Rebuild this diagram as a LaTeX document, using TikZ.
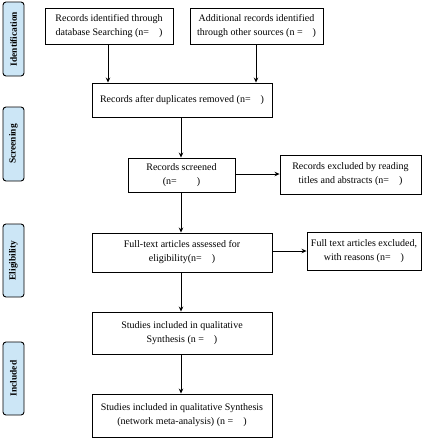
\documentclass[tikz,border=0pt]{standalone}
\usepackage{fontspec}
\setmainfont{Liberation Serif}
\usetikzlibrary{arrows.meta}
\definecolor{phase}{RGB}{204,230,246}
\begin{document}
\begin{tikzpicture}[x=1pt,y=-1pt,
  box/.style={draw,line width=0.9pt,fill=white,align=center,font=\fontsize{10}{14}\selectfont,inner sep=0pt},
  phasebox/.style={draw,line width=0.9pt,fill=phase,rounded corners=3pt,inner sep=0pt},
  phasetext/.style={rotate=90,font=\bfseries\fontsize{9.4}{10}\selectfont},
  arr/.style={line width=0.8pt,-{Stealth[length=5pt,width=4.5pt]}}]
\useasboundingbox (0,0) rectangle (425,440);
% phase labels
\node[phasebox,minimum width=21pt,minimum height=74pt] (p1) at (13.5,39) {};
\node[phasetext] at (p1) {Identification};
\node[phasebox,minimum width=21pt,minimum height=74pt] (p2) at (13.5,144) {};
\node[phasetext] at (p2) {Screening};
\node[phasebox,minimum width=21pt,minimum height=73pt] (p3) at (13.5,260.5) {};
\node[phasetext] at (p3) {Eligibility};
\node[phasebox,minimum width=21pt,minimum height=73pt] (p4) at (13.5,378.5) {};
\node[phasetext] at (p4) {Included};
% boxes
\node[box,minimum width=128pt,minimum height=36pt] (b1) at (109,26) {Records identified through\\database Searching (n=\quad)};
\node[box,minimum width=133pt,minimum height=36pt] (b2) at (256.5,26) {Additional records identified\\through other sources (n =\quad)};
\node[box,minimum width=180pt,minimum height=34pt] (b3) at (182,100) {Records after duplicates removed (n=\quad)};
\node[box,minimum width=107pt,minimum height=34pt] (b4) at (181.5,175) {Records screened\\(n=\qquad)};
\node[box,minimum width=141pt,minimum height=39pt] (b5) at (350.5,174.5) {Records excluded by reading\\titles and abstracts (n=\quad)};
\node[box,minimum width=180pt,minimum height=39pt] (b6) at (182,252.5) {Full-text articles assessed for\\eligibility(n=\quad)};
\node[box,minimum width=114pt,minimum height=38pt] (b7) at (364,251) {Full text articles excluded,\\with reasons (n=\quad)};
\node[box,minimum width=180pt,minimum height=42pt] (b8) at (182,333) {Studies included in qualitative\\Synthesis (n =\quad)};
\node[box,minimum width=180pt,minimum height=43pt] (b9) at (182,415.5) {Studies included in qualitative Synthesis\\(network meta-analysis) (n =\quad)};
% arrows
\draw[arr] (b1.south -| 108,0) -- (b3.north -| 108,0);
\draw[arr] (b2.south -| 256,0) -- (b3.north -| 256,0);
\draw[arr] (b3.south -| 181,0) -- (b4.north -| 181,0);
\draw[arr] (b4.south -| 181,0) -- (b6.north -| 181,0);
\draw[arr] (b4.east |- 0,174) -- (b5.west |- 0,174);
\draw[arr] (b6.east |- 0,251) -- (b7.west |- 0,251);
\draw[arr] (b6.south -| 181,0) -- (b8.north -| 181,0);
\draw[arr] (b8.south -| 181,0) -- (b9.north -| 181,0);
\end{tikzpicture}
\end{document}
